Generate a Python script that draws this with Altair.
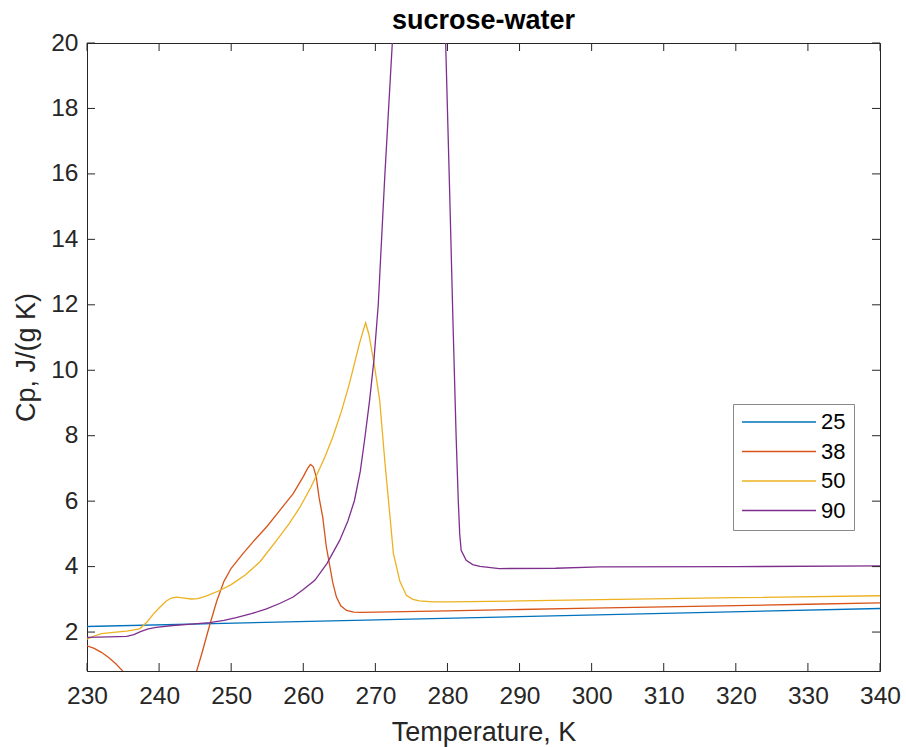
import altair as alt
import pandas as pd

# ---- data ----
series_names = ["25", "38", "50", "90"]
series_colors = ["#0072BD", "#D95319", "#EDB120", "#7E2F8E"]

T25 = [230, 340]
Cp25 = [2.17, 2.72]

T38 = [230, 231, 232, 233, 234, 235, 236, 238, 240, 242, 244, 245, 246, 247, 248, 249, 250,
       251.6, 253, 254.9, 256.5, 258.6, 260, 260.6, 261, 261.4, 261.8, 262.2, 262.7, 263.2,
       263.7, 264.1, 264.6, 265.2, 266, 267, 268, 270, 280, 290, 300, 310, 320, 330, 340]
Cp38 = [1.58, 1.50, 1.38, 1.22, 1.03, 0.80, 0.50, -0.2, -0.8, -0.6, -0.1, 0.65, 1.4, 2.2, 2.95,
        3.55, 3.95, 4.39, 4.75, 5.21, 5.65, 6.23, 6.75, 7.0, 7.12, 7.05, 6.74, 6.1, 5.51, 4.6,
        3.99, 3.5, 3.07, 2.8, 2.66, 2.61, 2.6, 2.61, 2.65, 2.69, 2.73, 2.77, 2.81, 2.85, 2.89]

T50 = [230, 231, 232, 234, 235.5, 237.3, 238.3, 239.2, 240.1, 241, 241.7, 242.4, 243.5, 244.5,
       245.4, 246.5, 248.4, 250, 252, 254, 256.3, 258, 259.5, 261, 261.8, 263, 264.1, 265.3,
       266.4, 267.8, 268.3, 268.65, 269.1, 269.9, 270.6, 271.3, 272, 272.5, 273.4, 274.3,
       275.2, 276.1, 278, 280.3, 290, 301.1, 320, 340]
Cp50 = [1.78, 1.88, 1.95, 2.0, 2.03, 2.10, 2.3, 2.55, 2.76, 2.95, 3.04, 3.07, 3.04, 3.01,
        3.02, 3.1, 3.27, 3.45, 3.75, 4.15, 4.8, 5.3, 5.8, 6.4, 6.77, 7.35, 7.96, 8.75,
        9.59, 10.82, 11.2, 11.45, 11.1, 10.1, 9.08, 7.25, 5.6, 4.4, 3.55, 3.12,
        3.0, 2.95, 2.92, 2.92, 2.95, 2.99, 3.05, 3.11]

T90 = [230, 233, 235.5, 236.5, 237.5, 238.5, 239.6, 241.9, 244.5, 247, 249, 250.7, 252.8,
       254.9, 256.8, 258.6, 260, 261.6, 263.3, 265.05, 266.2, 267.1, 267.9, 268.5, 269.2,
       269.8, 270.4, 271.3, 272.35, 273.5, 275.5, 277.5, 279, 279.75, 280.3, 280.76, 281.2,
       281.5, 281.7, 281.9, 282.6, 283.5, 284.5, 287.2, 295, 301.1, 320, 340]
Cp90 = [1.84, 1.85, 1.87, 1.92, 2.02, 2.1, 2.14, 2.2, 2.24, 2.29, 2.36, 2.44, 2.56,
        2.71, 2.88, 3.07, 3.3, 3.58, 4.1, 4.8, 5.4, 6.02, 6.9, 7.86, 9.08,
        10.31, 12.0, 15.9, 20.0, 25, 32, 32, 26, 20.0, 15.5, 11.53, 8.0,
        6.02, 5.0, 4.5, 4.19, 4.06, 4.01, 3.94, 3.95, 3.99, 4.0, 4.02]

x_ticks = [230, 240, 250, 260, 270, 280, 290, 300, 310, 320, 330, 340]
y_ticks = [2, 4, 6, 8, 10, 12, 14, 16, 18, 20]
x_domain = [230, 340]
y_domain = [0.81, 20]

# ---- build table ----
rows = []
for name, ts, cs in zip(series_names, [T25, T38, T50, T90], [Cp25, Cp38, Cp50, Cp90]):
    for i, (t, c) in enumerate(zip(ts, cs)):
        rows.append({"series": name, "T": t, "Cp": c, "idx": i})
df = pd.DataFrame(rows)

W, H = 793, 628
FONT = "Liberation Sans"
AX = "#262626"
TICK = 8

xscale = alt.Scale(domain=x_domain, nice=False, zero=False)
yscale = alt.Scale(domain=y_domain, nice=False, zero=False)

x_axis = alt.Axis(values=x_ticks, title="Temperature, K", ticks=False, grid=False,
                  labelPadding=13, labelFontSize=24.5, labelFont=FONT, labelColor=AX,
                  labelFlush=False, labelOverlap=False,
                  titleFont=FONT, titleFontSize=27, titleFontWeight="normal", titleColor=AX,
                  domainColor=AX, domainWidth=1,
                  titleBaseline="alphabetic", titleY=69, titleX=W / 2, format="d")
y_axis = alt.Axis(values=y_ticks, title="Cp, J/(g K)", ticks=False, grid=False,
                  labelPadding=9, labelFontSize=24.5, labelFont=FONT, labelColor=AX,
                  labelFlush=False, labelOverlap=False,
                  titleFont=FONT, titleFontSize=27, titleFontWeight="normal", titleColor=AX,
                  domainColor=AX, domainWidth=1,
                  titleBaseline="alphabetic", titleX=-53, titleY=H / 2, format="d")

X = alt.X("T:Q", scale=xscale, axis=x_axis)
Y = alt.Y("Cp:Q", scale=yscale, axis=y_axis)

lines = alt.Chart(df).mark_line(clip=True, strokeWidth=1.3).encode(
    x=X,
    y=Y,
    color=alt.Color("series:N",
                    scale=alt.Scale(domain=series_names, range=series_colors),
                    legend=alt.Legend(title=None, orient="none", legendX=646, legendY=361,
                                      symbolType="stroke", symbolSize=74 * 74,
                                      symbolStrokeWidth=1.3, clipHeight=20, rowPadding=7.5,
                                      padding=8, labelFontSize=22, labelFont=FONT,
                                      labelColor="black", labelOffset=4,
                                      strokeColor="#888888", fillColor="white")),
    order=alt.Order("idx:Q"),
)

xt = pd.DataFrame({"T": x_ticks})
yt = pd.DataFrame({"Cp": y_ticks})

xt_bottom = alt.Chart(xt).mark_rule(color=AX, strokeWidth=1).encode(
    x=X, y=alt.value(H), y2=alt.value(H - TICK))
xt_top = alt.Chart(xt).mark_rule(color=AX, strokeWidth=1).encode(
    x=X, y=alt.value(0), y2=alt.value(TICK))
yt_left = alt.Chart(yt).mark_rule(color=AX, strokeWidth=1).encode(
    y=Y, x=alt.value(0), x2=alt.value(TICK))
yt_right = alt.Chart(yt).mark_rule(color=AX, strokeWidth=1).encode(
    y=Y, x=alt.value(W), x2=alt.value(W - TICK))

chart = alt.layer(lines, xt_bottom, xt_top, yt_left, yt_right).properties(
    width=W, height=H,
    background="white",
    title=alt.TitleParams("sucrose-water", fontSize=27, fontWeight="bold", font=FONT,
                          color="black", anchor="middle", frame="group", offset=4, dy=9),
    autosize=alt.AutoSizeParams(type="none"),
    padding={"left": 87, "top": 43, "right": 26, "bottom": 76},
).configure_view(stroke=AX, strokeWidth=1).configure_axis(grid=False)

chart.save("out.html", embed_options={"renderer": "svg", "actions": False})
